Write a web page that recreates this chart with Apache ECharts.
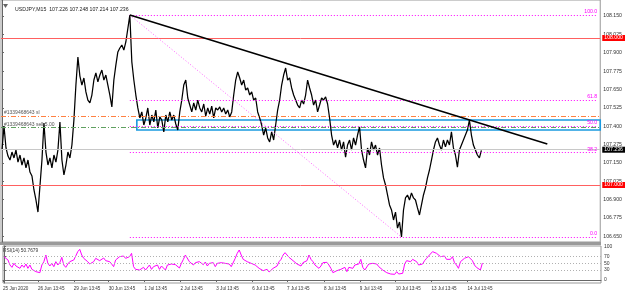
<!DOCTYPE html>
<html><head><meta charset="utf-8">
<script src="https://cdn.jsdelivr.net/npm/echarts@6/dist/echarts.min.js"></script>
<style>html,body{margin:0;padding:0;background:#fff}#c{width:625px;height:292px}</style>
</head><body><div id="c"></div>
<script>
// ---- data ----
const chartTitle = 'USDJPY,M15  107.226 107.248 107.214 107.236';
const rsiTitle = 'RSI(14) 50.7679';
const closePrices = [
107.238,107.401,107.252,107.197,107.170,107.224,107.184,107.238,107.156,107.204,
107.136,107.184,107.116,107.170,107.088,107.061,106.966,106.898,106.816,106.993,
107.170,107.422,107.224,107.136,107.184,107.116,107.204,107.156,107.238,107.429,
107.170,107.068,107.136,107.224,107.184,107.272,107.442,107.680,107.871,107.741,
107.680,107.728,107.633,107.578,107.558,107.612,107.714,107.762,107.701,107.748,
107.782,107.714,107.748,107.680,107.612,107.531,107.714,107.816,107.905,107.932,
107.952,107.918,107.973,107.986,108.156,107.837,107.714,107.612,107.524,107.456,
107.497,107.408,107.456,107.524,107.408,107.476,107.429,107.510,107.388,107.463,
107.442,107.361,107.476,107.429,107.497,107.442,107.476,107.415,107.374,107.497,
107.578,107.680,107.714,107.592,107.544,107.497,107.558,107.510,107.578,107.524,
107.497,107.551,107.469,107.524,107.483,107.537,107.456,107.524,107.510,107.531,
107.497,107.524,107.483,107.510,107.463,107.497,107.612,107.714,107.769,107.728,
107.680,107.714,107.646,107.660,107.612,107.633,107.578,107.592,107.497,107.456,
107.408,107.340,107.388,107.320,107.293,107.361,107.306,107.408,107.510,107.578,
107.680,107.748,107.796,107.714,107.728,107.660,107.612,107.578,107.544,107.524,
107.578,107.551,107.612,107.714,107.660,107.612,107.544,107.578,107.497,107.544,
107.592,107.578,107.599,107.551,107.456,107.340,107.272,107.306,107.252,107.306,
107.238,107.293,107.190,107.272,107.306,107.238,107.320,107.272,107.340,107.395,
107.238,107.170,107.116,107.252,107.204,107.293,107.238,107.272,107.204,107.252,
107.136,107.048,107.000,106.932,106.864,106.830,106.762,106.816,106.707,106.748,
106.646,106.830,106.912,106.932,106.898,106.946,106.912,106.898,106.844,106.796,
106.864,106.932,106.980,107.048,107.102,107.170,107.238,107.293,107.320,107.272,
107.238,107.306,107.259,107.306,107.272,107.361,107.252,107.204,107.122,107.238,
107.272,107.306,107.293,107.374,107.442,107.340,107.272,107.238,107.204,107.184,
107.236];
const rsiValues = [
70,72,60,45,38,50,42,48,35,45,
38,48,35,45,32,30,25,27,22,45,
55,75,50,42,50,40,55,45,52,68,
45,38,48,55,50,60,72,85,92,75,
65,70,55,48,45,55,65,68,58,62,
66,58,62,55,48,40,60,66,70,70,
72,65,70,70,80,40,32,28,30,32,
38,30,36,45,32,40,36,45,32,42,
40,30,45,40,48,42,46,40,36,50,
62,75,70,55,50,45,52,48,55,50,
46,54,42,50,45,52,40,50,48,52,
46,50,44,48,40,46,65,80,90,75,
62,65,55,58,50,53,45,48,35,32,
28,22,32,24,22,35,30,42,55,62,
75,82,85,68,70,58,52,48,45,42,
52,48,58,75,62,55,45,50,35,42,
52,50,53,45,35,22,20,28,25,32,
28,38,25,38,42,35,45,40,48,62,
38,30,28,48,42,50,45,48,40,45,
30,25,22,20,18,22,17,25,18,22,
20,48,58,62,55,62,58,55,45,40,
48,58,65,72,78,85,82,80,78,70,
65,72,62,68,62,70,52,45,35,55,
60,65,62,70,76,58,45,38,32,30,
50.77];
const priceTicks = [108.150,108.025,107.900,107.775,107.650,107.525,107.400,107.275,107.150,107.025,106.900,106.775,106.650];
const rsiTicks = [0,30,50,70,100];
const rsiLevels = [30,50,70];
const timeLabels = ['25 Jun 2020','26 Jun 13:45','29 Jun 13:45','30 Jun 13:45','1 Jul 13:45','2 Jul 13:45','3 Jul 13:45','6 Jul 13:45','7 Jul 13:45','8 Jul 13:45','9 Jul 13:45','10 Jul 13:45','13 Jul 13:45','14 Jul 13:45'];
const timeLabelPos = [-0.5,17,35,52.5,70.5,88.5,106.5,124.5,142,160.5,178.5,196.5,214.5,232.5];
const roundLevels = [108.000,107.000];
const bidPrice = 107.236;
const fibRatios = [0,0.382,0.5,0.618,1];
const fibNames = ['0.0','38.2','50.0','61.8','100.0'];
const fibEndIdx = 298;
const orderSL = 107.470, orderOpen = 107.395;
const orderSLText = '#1339468643 sl', orderOpenText = '#1339468643 sell 5.00';
const boxTop = 107.442, boxBottom = 107.374, boxStartIdx = 67.5, boxEndIdx = 299.5;
const trendEndIdx = 273, trendEndPrice = 107.279;

// ---- build ----
const F = 'Liberation Sans, Arial, sans-serif';
const hi = Math.max(...closePrices), lo = Math.min(...closePrices);
const hiIdx = closePrices.indexOf(hi), loIdx = closePrices.indexOf(lo);
const fmt3 = v => v.toFixed(3);

const fibLines = fibRatios.map((r, k) => {
  const lv = lo + r * (hi - lo);
  return [{coord:[hiIdx, lv], lineStyle:{color:'#ff00ff', type:[1,2], width:1},
    label:{show:true, position:'insideEndTop', formatter:fibNames[k], color:'#ff00ff', fontSize:5.2, fontFamily:F, distance:[0,0.5]}},
    {coord:[fibEndIdx, lv]}];
});

const hLine = (v, color, type, width, labelOpt) => ({yAxis: v, lineStyle:{color, type, width}, label: labelOpt || {show:false}});

const priceMarkLines = [
  hLine(bidPrice, '#c8c8c8', 'solid', 1, {show:true, position:'end', distance:2, formatter: fmt3(bidPrice), color:'#fff', backgroundColor:'#000', fontSize:5.2, fontFamily:F, padding:[1,3,0,2]}),
  ...roundLevels.map(v => hLine(v, '#ff6060', 'solid', 1, {show:true, position:'end', distance:2, formatter: fmt3(v), color:'#fff', backgroundColor:'#ff0000', fontSize:5.2, fontFamily:F, padding:[1,3,0,2]})),
  hLine(orderSL, '#ff8040', [5,2,1,2], 1, {show:true, position:'insideStartTop', formatter: orderSLText, color:'#555', fontSize:5, fontFamily:F, distance:[3,1]}),
  hLine(orderOpen, '#5fa05f', [5,2,1,2], 1, {show:true, position:'insideStartTop', formatter: orderOpenText, color:'#555', fontSize:5, fontFamily:F, distance:[3,1]}),
  ...fibLines,
  [{coord:[hiIdx, hi], lineStyle:{color:'#ff66ff', type:[1,2], width:1}}, {coord:[loIdx, lo]}],
  [{coord:[hiIdx, hi], lineStyle:{color:'#000', type:'solid', width:1.6}}, {coord:[trendEndIdx, trendEndPrice]}]
];

const option = {
  animation: false,
  backgroundColor: '#fff',
  grid: [
    {left:1, width:600, top:0, height:242, show:true, borderColor:'#999', borderWidth:1},
    {left:1, width:600, top:246, height:37, show:true, borderColor:'#999', borderWidth:1}
  ],
  xAxis: [
    {type:'value', gridIndex:0, min:-0.5, max:299.5, show:false},
    {type:'value', gridIndex:1, min:-0.5, max:299.5,
      axisLine:{show:true, lineStyle:{color:'#666'}},
      axisTick:{show:true, customValues: timeLabelPos, length:2, lineStyle:{color:'#666'}},
      splitLine:{show:false},
      axisLabel:{customValues: timeLabelPos, formatter: v => { const i = timeLabelPos.indexOf(v); return i >= 0 ? timeLabels[i] : ''; },
        align:'left', fontSize:4.6, fontFamily:F, color:'#333', margin:3}}
  ],
  yAxis: [
    {type:'value', gridIndex:0, position:'right', min:106.6122, max:108.2585, scale:true,
      axisLine:{show:true, lineStyle:{color:'#666'}},
      axisTick:{show:true, customValues: priceTicks, length:2, lineStyle:{color:'#666'}},
      splitLine:{show:false},
      axisLabel:{customValues: priceTicks, formatter: v => v.toFixed(3), fontSize:5.2, fontFamily:F, color:'#333', margin:3}},
    {type:'value', gridIndex:1, position:'right', min:-9, max:102,
      axisLine:{show:true, lineStyle:{color:'#666'}},
      axisTick:{show:true, customValues: rsiTicks, length:2, lineStyle:{color:'#666'}},
      splitLine:{show:false},
      axisLabel:{customValues: rsiTicks, fontSize:5, fontFamily:F, color:'#333', margin:3}}
  ],
  title: {text: chartTitle, left: 10, top: 2, textStyle:{fontSize:5.2, fontWeight:'normal', fontFamily:F, color:'#222'}},
  graphic: [
    {type:'polygon', shape:{points:[[3,4],[8,4],[5.5,8]]}, style:{fill:'#666'}},
    {type:'rect', shape:{x:0, y:242, width:601, height:3}, style:{fill:'#9a9a9a'}},
    {type:'text', left:3, top:248, style:{text: rsiTitle, fontSize:4.8, fontFamily:F, fill:'#333'}}
  ],
  series: [
    {type:'line', xAxisIndex:0, yAxisIndex:0, data: closePrices.map((v,i)=>[i,v]), showSymbol:false, clip:false,
      lineStyle:{color:'#000', width:1.25}, z:3,
      markLine:{silent:true, symbol:['none','none'], animation:false, data: priceMarkLines},
      markArea:{silent:true, data:[[{xAxis:boxStartIdx, yAxis:boxTop, itemStyle:{color:'rgba(0,0,0,0)', borderColor:'#1a9ae0', borderWidth:1.6}}, {xAxis:boxEndIdx, yAxis:boxBottom}]]}},
    {type:'line', xAxisIndex:1, yAxisIndex:1, data: rsiValues.map((v,i)=>[i,v]), showSymbol:false,
      lineStyle:{color:'#ff00ff', width:1},
      markLine:{silent:true, symbol:['none','none'], label:{show:false},
        data: rsiLevels.map(v => ({yAxis:v, lineStyle:{color:'#b0b0b0', type:[1,2], width:1}}))}}
  ]
};
const chart = echarts.init(document.getElementById('c'));
chart.setOption(option);
</script>
</body></html>
